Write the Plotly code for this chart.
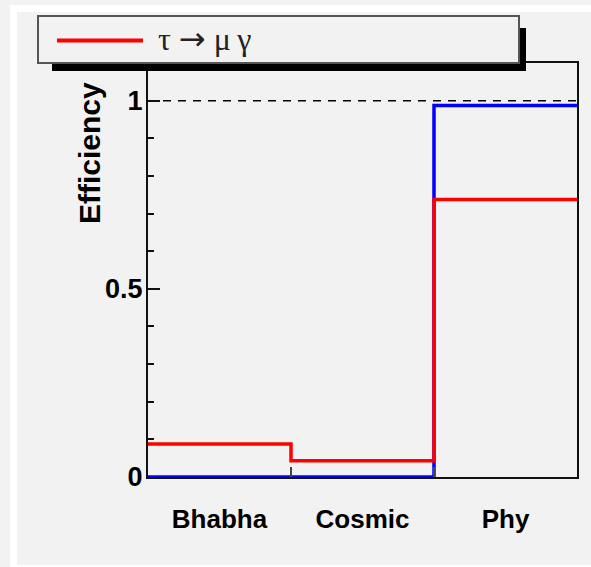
import plotly.graph_objects as go

# Event-sample categories (one bin each) and selection efficiencies
categories = ["Bhabha", "Cosmic", "Phy"]
eff_red = [0.088, 0.043, 0.737]   # tau -> mu gamma
eff_blue = [0.0, 0.0, 0.987]
reference_level = 1.0
y_ticks = [0, 0.5, 1]
y_tick_text = ["0", "0.5", "1"]

W, H = 591, 567
L, R, T, B = 148, 14, 63, 90
PW, PH = W - L - R, H - T - B


def px(x):
    return (x - L) / PW


def py(y):
    return (H - B - y) / PH


edges = list(range(len(categories) + 1))
centers = [i + 0.5 for i in range(len(categories))]


def step(vals):
    return vals + [vals[-1]]


fig = go.Figure()
fig.add_trace(go.Scatter(x=edges, y=step(eff_blue), mode="lines", line_shape="hv",
                         line=dict(color="#0000ff", width=3.5), name="blue",
                         showlegend=False, hoverinfo="skip"))
fig.add_trace(go.Scatter(x=edges, y=step(eff_red), mode="lines", line_shape="hv",
                         line=dict(color="#ff0000", width=3.5), name="τ → μγ",
                         showlegend=False, hoverinfo="skip"))
fig.add_trace(go.Scatter(x=[edges[0], edges[-1]], y=[reference_level] * 2, mode="lines",
                         line=dict(color="black", width=1.5, dash="8px,7px"),
                         showlegend=False, hoverinfo="skip"))

bg = "#f2f2f2"
shapes = [
    # canvas frame
    dict(type="rect", xref="paper", yref="paper", x0=px(10), x1=px(W + 5), y0=py(5), y1=py(H + 5),
         fillcolor="white", line=dict(width=0), layer="below"),
    dict(type="rect", xref="paper", yref="paper", x0=px(17), x1=px(W + 5), y0=py(12), y1=py(565),
         fillcolor=bg, line=dict(width=0), layer="below"),
    # legend shadow and box
    dict(type="rect", xref="paper", yref="paper", x0=px(52), x1=px(526), y0=py(28), y1=py(71),
         fillcolor="black", line=dict(width=0)),
    dict(type="rect", xref="paper", yref="paper", x0=px(38), x1=px(519), y0=py(16), y1=py(63),
         fillcolor=bg, line=dict(color="#555555", width=2)),
    dict(type="line", xref="paper", yref="paper", x0=px(57), x1=px(143), y0=py(40.5), y1=py(40.5),
         line=dict(color="#ff0000", width=4)),
]

legend_label = ("τ <span style='font-family:DejaVu Sans'>→</span> μ\u2009γ")

annotations = [
    dict(text=legend_label, xref="paper", yref="paper", x=px(156), y=py(39), xanchor="left",
         yanchor="middle", showarrow=False,
         font=dict(family="Liberation Serif", size=32, color="#222222")),
    dict(text="Efficiency", xref="paper", yref="paper", x=px(89), y=py(153), xanchor="center",
         yanchor="middle", textangle=-90, showarrow=False,
         font=dict(family="Liberation Sans", size=30, color="black", weight="bold")),
]

fig.update_layout(
    width=W, height=H, margin=dict(l=L, r=R, t=T, b=B, pad=0),
    paper_bgcolor=bg, plot_bgcolor=bg,
    shapes=shapes, annotations=annotations, showlegend=False,
    xaxis=dict(range=[0, 3], tickmode="array", tickvals=centers, ticktext=categories,
               ticks="", showgrid=False, zeroline=False, showline=True, linecolor="#111111",
               linewidth=2, mirror=True, ticklabelstandoff=18,
               tickfont=dict(family="Liberation Sans", size=26, color="black", weight="bold"),
               minor=dict(tickmode="array", tickvals=edges[1:-1], ticks="inside", ticklen=10,
                          tickcolor="#444444", tickwidth=2)),
    yaxis=dict(range=[0, 1.1], tickmode="array", tickvals=y_ticks, ticktext=y_tick_text,
               ticks="inside", ticklen=12, tickwidth=1.5, tickcolor="#111111",
               showgrid=False, zeroline=False, showline=True, linecolor="#111111",
               linewidth=2, mirror=True, ticklabelstandoff=-2,
               tickfont=dict(family="Liberation Sans", size=27, color="black", weight="bold"),
               minor=dict(dtick=0.1, tick0=0, ticks="inside", ticklen=6, tickwidth=1.5,
                          tickcolor="#111111", showgrid=False)),
)

fig.write_html("out.html")
